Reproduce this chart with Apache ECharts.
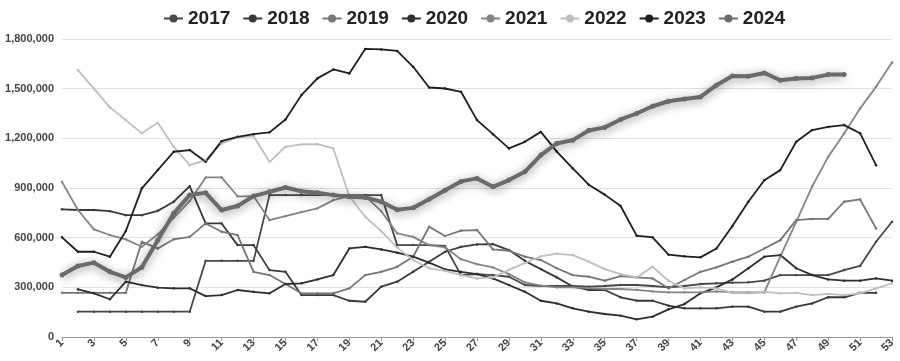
<!DOCTYPE html>
<html><head><meta charset="utf-8">
<script src="https://cdn.jsdelivr.net/npm/echarts@6/dist/echarts.min.js"></script>
<style>html,body{margin:0;padding:0;background:#fff}#c{width:900px;height:361px}</style>
</head><body><div id="c"></div>
<script>
const weeks = Array.from({length:53},(_,i)=>String(i+1));
const yTicks = [0,300000,600000,900000,1200000,1500000,1800000];
const k = a => a.map(v => v==null ? null : v*1000);
const s2017 = k([null,153,153,153,153,153,153,153,153,460,460,460,460,857,857,857,857,857,857,857,857,555,555,555,550,374,380,374,364,314,308,308,308,304,308,314,314,308,300,308,320,324,328,330,340,374,374,374,374,404,429,575,696]);
const s2018 = k([771,767,767,760,736,736,762,817,911,686,686,555,555,404,394,253,253,253,219,213,304,334,394,455,515,545,559,561,525,460,410,360,305,284,284,240,219,219,189,173,173,173,183,183,153,153,183,203,240,240,267,267,null]);
const s2019 = k([267,267,267,267,267,575,535,590,605,686,636,616,394,374,320,264,264,264,294,374,394,424,485,666,610,642,646,529,521,485,465,415,374,364,340,368,360,354,294,344,394,421,455,485,535,585,706,713,713,817,831,656,null]);
const s2020 = k([null,288,264,228,334,314,298,294,294,247,253,284,273,264,320,324,348,374,535,545,529,509,485,449,409,394,380,354,314,273,219,203,173,153,139,129,107,123,167,199,264,300,348,415,485,495,415,374,348,340,340,354,340]);
const s2021 = k([937,767,650,616,590,545,620,720,820,964,964,850,851,706,730,755,777,827,851,851,760,626,605,555,541,470,440,420,380,330,310,300,300,295,290,290,285,275,270,270,270,275,270,269,269,485,696,910,1088,1229,1380,1511,1658]);
const s2022 = k([null,1612,1500,1387,1310,1230,1294,1149,1038,1068,1169,1205,1213,1058,1149,1163,1165,1139,850,726,640,540,465,415,400,374,354,360,405,447,487,503,495,455,410,380,360,424,340,294,300,294,266,264,273,264,267,253,260,253,264,294,324]);
const s2023 = k([602,515,515,485,640,898,1008,1119,1129,1058,1183,1209,1225,1236,1314,1461,1562,1616,1592,1740,1737,1728,1632,1507,1501,1481,1310,1225,1139,1179,1239,1120,1018,920,860,791,612,602,497,487,481,535,670,817,947,1008,1179,1250,1269,1280,1231,1038,null]);
const s2024 = k([374,429,449,394,360,421,585,747,857,871,767,791,851,877,903,880,871,857,847,843,817,769,780,832,887,940,958,907,948,998,1099,1169,1189,1247,1266,1314,1350,1394,1424,1437,1450,1521,1577,1575,1595,1551,1561,1565,1585,1585,null,null,null]);

const names = ['2017','2018','2019','2020','2021','2022','2023','2024'];
const datas = [s2017,s2018,s2019,s2020,s2021,s2022,s2023,s2024];
const colors = ['#474747','#3a3a3a','#767676','#2e2e2e','#858585','#bfbfbf','#1e1e1e','#6a6a6a'];

const series = names.map((n,i)=>{
  const thick = n==='2024';
  return {
    name:n, type:'line', data:datas[i], connectNulls:false,
    symbol:'circle', symbolSize: thick?5:2.5, showSymbol:true,
    z: thick?10:2,
    lineStyle:{width: thick?4:1.8, color:colors[i],
      shadowBlur: thick?10:0, shadowColor: thick?'rgba(0,0,0,0.45)':'transparent', shadowOffsetY: thick?2:0},
    itemStyle:{color:colors[i]},
    emphasis:{disabled:true}, animation:false
  };
});

const chart = echarts.init(document.getElementById('c'));
chart.setOption({
  animation:false,
  color:colors,
  legend:{top:4,left:158,itemWidth:19,itemHeight:10,itemGap:12,
    textStyle:{fontSize:19,fontWeight:'bold',color:'#222',fontFamily:'Liberation Sans'},
    data:names},
  grid:{left:62,right:8,top:39,bottom:24},
  xAxis:{type:'category',data:weeks,boundaryGap:false,
    axisLine:{lineStyle:{color:'#999'}},
    axisTick:{interval:1,lineStyle:{color:'#999'},length:4},
    axisLabel:{interval:1,rotate:45,fontSize:11,fontWeight:'bold',color:'#444',margin:4,fontFamily:'Liberation Sans'}},
  yAxis:{type:'value',min:yTicks[0],max:yTicks[yTicks.length-1],interval:300000,
    axisLine:{show:false},axisTick:{show:false},
    splitLine:{lineStyle:{color:'#e0e0e0'}},
    axisLabel:{fontSize:11,fontWeight:'bold',color:'#444',margin:8,fontFamily:'Liberation Sans',
      formatter:v=>String(v).replace(/\B(?=(\d{3})+(?!\d))/g,',')}},
  series:series
});
</script></body></html>
